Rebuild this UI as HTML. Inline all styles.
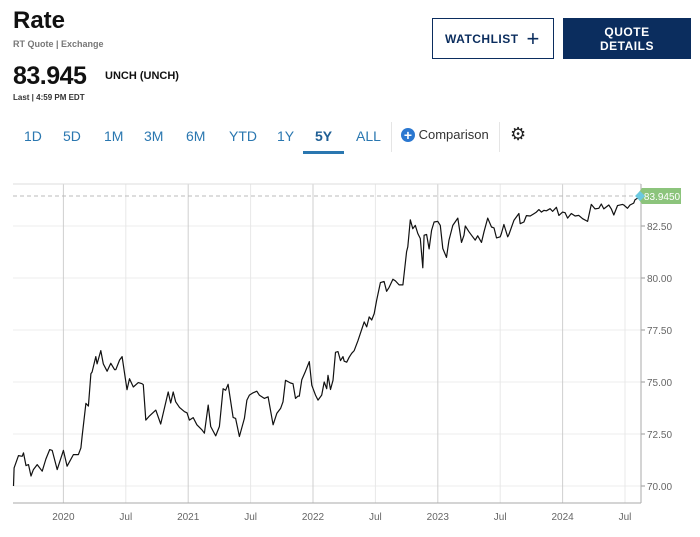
<!DOCTYPE html>
<html><head><meta charset="utf-8"><style>
body{margin:0;width:700px;height:537px;background:#fff;font-family:"Liberation Sans",sans-serif;position:relative;overflow:hidden}
.a{position:absolute}
.tab{position:absolute;top:128px;font-size:14px;color:#2a77b0}
</style></head><body>
<div class="a" style="left:13px;top:7px;font-size:24px;font-weight:bold;color:#111">Rate</div>
<div class="a" style="left:13px;top:39px;font-size:9px;color:#777;font-weight:bold">RT Quote | Exchange</div>
<div class="a" style="left:13px;top:62px;font-size:25px;font-weight:bold;color:#111;letter-spacing:-0.5px">83.945</div>
<div class="a" style="left:105px;top:70px;font-size:11px;font-weight:bold;color:#111">UNCH (UNCH)</div>
<div class="a" style="left:13px;top:93px;font-size:8px;font-weight:bold;color:#333">Last | 4:59 PM EDT</div>
<div class="a" style="left:432px;top:18px;width:120px;height:39px;border:1px solid #0b2d5e;color:#0b2d5e;font-size:12px;font-weight:bold;letter-spacing:0.5px;line-height:39px;text-indent:12px">WATCHLIST <span style="font-size:22px;font-weight:normal;vertical-align:-3px;margin-left:4px">+</span></div>
<div class="a" style="left:563px;top:18px;width:128px;height:41px;background:#0b2d5e;color:#fff;font-size:12px;font-weight:bold;text-align:center;line-height:14px;padding-top:7px;box-sizing:border-box;letter-spacing:0.5px">QUOTE<br>DETAILS</div>
<div class="tab" style="left:24px">1D</div>
<div class="tab" style="left:63px">5D</div>
<div class="tab" style="left:104px">1M</div>
<div class="tab" style="left:144px">3M</div>
<div class="tab" style="left:186px">6M</div>
<div class="tab" style="left:229px">YTD</div>
<div class="tab" style="left:277px">1Y</div>
<div class="tab" style="left:315px;font-weight:bold;color:#1f5f95">5Y</div>
<div class="a" style="left:303px;top:151px;width:41px;height:3px;background:#2a77b0"></div>
<div class="tab" style="left:356px">ALL</div>
<div class="a" style="left:391px;top:122px;width:1px;height:30px;background:#e5e5e5"></div>
<div class="a" style="left:401px;top:127px;font-size:13px;color:#333"><span style="display:inline-block;width:14px;height:14px;border-radius:7px;background:#2a77d0;color:#fff;text-align:center;line-height:14px;font-size:14px;font-weight:bold;vertical-align:-1px">+</span> Comparison</div>
<div class="a" style="left:499px;top:122px;width:1px;height:30px;background:#e5e5e5"></div>
<div class="a" style="left:510px;top:124px;font-size:18px;color:#222">⚙</div>
<svg class="a" style="left:0;top:0" width="700" height="537" id="chart"></svg>
<script>
const dates=[2019.60,2019.605,2019.64,2019.67,2019.68,2019.70,2019.72,2019.74,2019.76,2019.79,2019.83,2019.86,2019.89,2019.91,2019.95,2020.00,2020.03,2020.08,2020.12,2020.14,2020.15,2020.18,2020.20,2020.22,2020.23,2020.26,2020.27,2020.30,2020.32,2020.35,2020.38,2020.41,2020.42,2020.45,2020.47,2020.51,2020.53,2020.56,2020.60,2020.63,2020.64,2020.66,2020.69,2020.74,2020.78,2020.84,2020.86,2020.88,2020.90,2020.93,2020.97,2020.99,2021.01,2021.04,2021.07,2021.11,2021.13,2021.16,2021.18,2021.22,2021.25,2021.28,2021.30,2021.32,2021.36,2021.38,2021.41,2021.45,2021.47,2021.49,2021.52,2021.55,2021.57,2021.61,2021.64,2021.68,2021.71,2021.74,2021.76,2021.78,2021.82,2021.84,2021.86,2021.88,2021.89,2021.91,2021.94,2021.97,2021.99,2022.02,2022.04,2022.07,2022.09,2022.11,2022.12,2022.14,2022.16,2022.18,2022.20,2022.22,2022.24,2022.25,2022.27,2022.29,2022.31,2022.33,2022.36,2022.39,2022.41,2022.43,2022.45,2022.47,2022.49,2022.51,2022.54,2022.57,2022.59,2022.61,2022.64,2022.66,2022.69,2022.72,2022.75,2022.76,2022.78,2022.80,2022.82,2022.84,2022.86,2022.88,2022.89,2022.91,2022.93,2022.95,2022.97,2023.00,2023.02,2023.04,2023.07,2023.09,2023.12,2023.16,2023.19,2023.21,2023.22,2023.25,2023.28,2023.30,2023.32,2023.35,2023.37,2023.40,2023.43,2023.45,2023.47,2023.50,2023.51,2023.53,2023.56,2023.57,2023.61,2023.65,2023.66,2023.69,2023.71,2023.74,2023.77,2023.79,2023.81,2023.83,2023.85,2023.87,2023.90,2023.92,2023.95,2023.97,2024.00,2024.02,2024.04,2024.07,2024.10,2024.13,2024.16,2024.20,2024.23,2024.26,2024.29,2024.31,2024.33,2024.37,2024.39,2024.41,2024.44,2024.48,2024.49,2024.52,2024.54,2024.57,2024.58,2024.61,2024.62];
const values=[70.00,70.87,71.46,71.43,71.59,70.98,71.03,70.48,70.79,71.03,70.71,71.30,71.75,71.71,70.79,71.71,70.95,71.51,71.51,71.83,72.38,73.97,73.84,75.40,75.48,76.22,75.87,76.51,75.87,75.52,75.90,75.59,75.59,76.06,76.22,74.63,75.16,74.76,74.97,74.92,74.87,73.17,73.37,73.65,72.98,74.52,73.99,74.52,74.05,73.78,73.57,73.52,73.17,73.29,72.94,72.70,72.54,73.89,72.86,72.41,72.86,74.68,74.60,74.89,73.30,73.25,72.38,73.25,74.13,74.37,74.48,74.56,74.37,74.21,74.29,72.94,73.49,73.73,74.05,75.08,74.95,74.92,74.21,74.32,74.32,75.11,75.52,75.98,74.84,74.37,74.13,74.37,75.00,74.68,75.32,74.64,75.08,76.43,76.46,76.03,76.22,76.00,75.95,76.19,76.38,76.51,76.98,77.53,77.89,77.65,78.13,77.98,78.29,78.92,79.78,79.83,79.36,79.55,79.94,79.86,79.67,79.67,81.27,81.50,82.80,82.37,82.53,82.14,81.90,80.49,82.06,82.09,81.40,82.30,82.69,82.72,82.53,81.42,80.99,81.82,82.53,82.88,81.71,82.06,82.50,82.22,81.98,81.82,82.03,81.71,82.22,82.88,82.45,82.41,81.93,81.98,82.14,82.57,81.98,82.09,82.77,83.10,82.61,82.69,83.00,82.98,83.09,83.17,83.29,83.17,83.25,83.23,83.33,83.20,83.40,83.01,83.17,83.14,82.88,83.10,82.98,83.01,82.85,82.72,83.54,83.32,83.35,83.56,83.32,83.51,83.32,83.03,83.48,83.54,83.51,83.35,83.51,83.60,83.76,83.87,83.945];
const yTicks=[70,72.5,75,77.5,80,82.5];
const yTickLabels=["70.00","72.50","75.00","77.50","80.00","82.50"];
const xTicks=[2020,2020.5,2021,2021.5,2022,2022.5,2023,2023.5,2024,2024.5];
const xTickLabels=["2020","Jul","2021","Jul","2022","Jul","2023","Jul","2024","Jul"];
const lastValue=83.945;
const lastLabel="83.9450";
const NS="http://www.w3.org/2000/svg";
const svg=document.getElementById('chart');
const L=13,R=641,T=184,B=503;
const x=t=>63.4+(t-2020)*124.8;
const y=v=>486-(v-70)*20.8;
function mk(tag,attrs){const e=document.createElementNS(NS,tag);for(const k in attrs)e.setAttribute(k,attrs[k]);svg.appendChild(e);return e;}
yTicks.forEach((v,i)=>{
  const g=mk('line',{x1:L,x2:R,y1:y(v),y2:y(v),stroke:'#ececec'});
  
  
  const tk=mk('line',{x1:R,x2:R+4,y1:y(v),y2:y(v),stroke:'#999'});
  
  
  const t=mk('text',{x:R+6,y:y(v)+4,'font-size':10,fill:'#666','font-family':'Liberation Sans, sans-serif'});
  t.textContent=yTickLabels[i];
  
  
});
xTicks.forEach((t,i)=>{
  const yr=xTickLabels[i]!=='Jul';
  const g=mk('line',{x1:x(t),x2:x(t),y1:T,y2:B,stroke:yr?'#cfcfcf':'#e8e8e8'});
  
  
  const tx=mk('text',{x:x(t),y:B+17,'font-size':10,fill:'#666','text-anchor':'middle','font-family':'Liberation Sans, sans-serif'});
  tx.textContent=xTickLabels[i];
  
  
});
const topBorder=mk('line',{x1:L,x2:R,y1:T,y2:T,stroke:'#ddd'});


const ax=mk('line',{x1:R,x2:R,y1:T,y2:B,stroke:'#aaa'});


const bx=mk('line',{x1:L,x2:R,y1:B,y2:B,stroke:'#aaa'});


const dl=mk('line',{x1:L,x2:R,y1:y(lastValue),y2:y(lastValue),stroke:'#bbb','stroke-dasharray':'4,3'});


const d=dates.map((t,i)=>(i?'L':'M')+x(t).toFixed(1)+','+y(values[i]).toFixed(1)).join(' ');
const p=mk('path',{d:d,fill:'none',stroke:'#111','stroke-width':1.2,'stroke-linejoin':'round'});


const ly=y(lastValue);
const tagEl=mk('path',{d:`M636,${ly} L642,${ly-8} L681,${ly-8} L681,${ly+8} L642,${ly+8} Z`,fill:'#8cc47c'});


const dia=mk('path',{d:`M635,${ly} L640,${ly-5} L645,${ly} L640,${ly+5} Z`,fill:'#6cc9e0'});


const tt=mk('text',{x:662,y:ly+4,'font-size':10,fill:'#fff','text-anchor':'middle','font-family':'Liberation Sans, sans-serif'});
tt.textContent=lastLabel;


</script>
</body></html>
